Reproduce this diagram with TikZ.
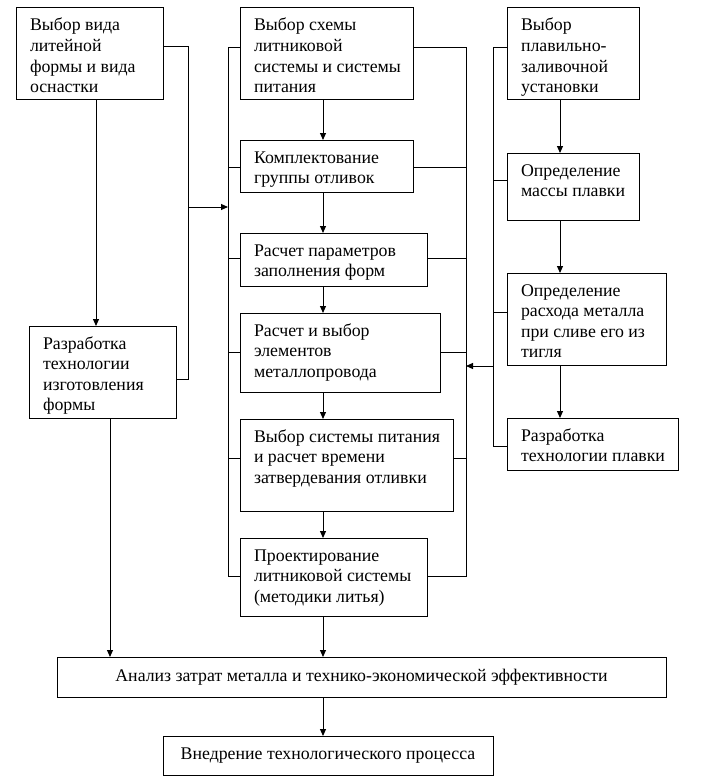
\documentclass[tikz,border=0pt]{standalone}
\usepackage{fontspec}
\setmainfont{Liberation Serif}
\usetikzlibrary{arrows.meta}
\newcommand\bxt[3]{\vbox to #2{\baselineskip=20.5pt\hbox to #1{}\vskip2.5pt #3\vfil}}
\newcommand\lin[1]{\hbox{\hskip14pt #1}}
\tikzset{
  box/.style={draw, line width=1pt, inner sep=0pt, outer sep=0pt, anchor=north west,
    font=\fontsize{17.8pt}{20.5pt}\selectfont},
  cbox/.style={draw, line width=1pt, inner sep=0pt, outer sep=0pt, anchor=north west,
    font=\fontsize{17.8pt}{20.5pt}\selectfont, align=center},
  ln/.style={line width=1pt},
  arr/.style={line width=1pt, -{Triangle[length=7pt,width=6pt]}},
}
\begin{document}
\begin{tikzpicture}[x=1pt,y=-1pt]
\useasboundingbox (0,0) rectangle (703,781);
% left column
\node[box] (A) at (16,8) {\bxt{147pt}{92pt}{\lin{Выбор вида}\lin{литейной}\lin{формы и вида}\lin{оснастки}}};
\node[box] (B) at (29,326) {\bxt{147pt}{92pt}{\lin{Разработка}\lin{технологии}\lin{изготовления}\lin{формы}}};
% central column
\node[box] (C1) at (240,8) {\bxt{173pt}{92pt}{\lin{Выбор схемы}\lin{литниковой}\lin{системы и системы}\lin{питания}}};
\node[box] (C2) at (240,140) {\bxt{173pt}{52pt}{\lin{Комплектование}\lin{группы отливок}}};
\node[box] (C3) at (240,233) {\bxt{187pt}{53pt}{\lin{Расчет параметров}\lin{заполнения форм}}};
\node[box] (C4) at (240,313) {\bxt{200pt}{79pt}{\lin{Расчет и выбор}\lin{элементов}\lin{металлопровода}}};
\node[box] (C5) at (240,419) {\bxt{213pt}{92pt}{\lin{Выбор системы питания}\lin{и расчет времени}\lin{затвердевания отливки}}};
\node[box] (C6) at (240,538) {\bxt{187pt}{78pt}{\lin{Проектирование}\lin{литниковой системы}\lin{(методики литья)}}};
% right column
\node[box] (R1) at (507,8) {\bxt{132pt}{92pt}{\lin{Выбор}\lin{плавильно-}\lin{заливочной}\lin{установки}}};
\node[box] (R2) at (507,153) {\bxt{132pt}{67pt}{\lin{Определение}\lin{массы плавки}}};
\node[box] (R3) at (507,273) {\bxt{159pt}{92pt}{\lin{Определение}\lin{расхода металла}\lin{при сливе его из}\lin{тигля}}};
\node[box] (R4) at (507,418) {\bxt{171pt}{52pt}{\lin{Разработка}\lin{технологии плавки}}};
% bottom
\node[cbox, minimum width=609pt, minimum height=40pt] (AN) at (57,657) {Анализ затрат металла и технико-экономической эффективности};
\node[cbox, minimum width=330pt, minimum height=39pt] (FIN) at (163,736) {Внедрение технологического процесса};

% coordinates for buses
\coordinate (xa) at (96,0);
\coordinate (xb) at (110,0);
\coordinate (xc) at (323,0);
\coordinate (xr) at (560,0);
\coordinate (L1t) at (188,47);
\coordinate (L1b) at (188,379);
\coordinate (L1m) at (188,207);
\coordinate (L2m) at (228,207);
\coordinate (L2t) at (228,48);
\coordinate (L2b) at (228,576);
\coordinate (M2t) at (466,48);
\coordinate (M2b) at (466,576);
\coordinate (M2m) at (466,366);
\coordinate (R0t) at (493,48);
\coordinate (R0b) at (493,446);
\coordinate (R0m) at (493,366);

% left bus
\draw[ln] (A.east |- L1t) -- (L1t) -- (L1b) -- (B.east |- L1b);
\draw[arr] (L1m) -- (L2m);
% central left bus
\draw[ln] (C1.west |- L2t) -- (L2t) -- (L2b) -- (C6.west |- L2b);
\draw[ln] (L2t |- 0,167) -- (C2.west |- 0,167);
\draw[ln] (L2t |- 0,258) -- (C3.west |- 0,258);
\draw[ln] (L2t |- 0,352) -- (C4.west |- 0,352);
\draw[ln] (L2t |- 0,458) -- (C5.west |- 0,458);
% central right bus
\draw[ln] (C1.east |- M2t) -- (M2t) -- (M2b) -- (C6.east |- M2b);
\draw[ln] (C2.east |- 0,167) -- (M2t |- 0,167);
\draw[ln] (C3.east |- 0,258) -- (M2t |- 0,258);
\draw[ln] (C4.east |- 0,352) -- (M2t |- 0,352);
\draw[ln] (C5.east |- 0,458) -- (M2t |- 0,458);
% right bus
\draw[ln] (R1.west |- R0t) -- (R0t) -- (R0b) -- (R4.west |- R0b);
\draw[ln] (R0t |- 0,180) -- (R2.west |- 0,180);
\draw[ln] (R0t |- 0,312) -- (R3.west |- 0,312);
\draw[arr] (R0m) -- (M2m);

% vertical arrows
\draw[arr] (A.south -| xa) -- (B.north -| xa);
\draw[arr] (B.south -| xb) -- (AN.north -| xb);
\draw[arr] (C1.south -| xc) -- (C2.north -| xc);
\draw[arr] (C2.south -| xc) -- (C3.north -| xc);
\draw[arr] (C3.south -| xc) -- (C4.north -| xc);
\draw[arr] (C4.south -| xc) -- (C5.north -| xc);
\draw[arr] (C5.south -| xc) -- (C6.north -| xc);
\draw[arr] (C6.south -| xc) -- (AN.north -| xc);
\draw[arr] (AN.south -| xc) -- (FIN.north -| xc);
\draw[arr] (R1.south -| xr) -- (R2.north -| xr);
\draw[arr] (R2.south -| xr) -- (R3.north -| xr);
\draw[arr] (R3.south -| xr) -- (R4.north -| xr);
\end{tikzpicture}
\end{document}
